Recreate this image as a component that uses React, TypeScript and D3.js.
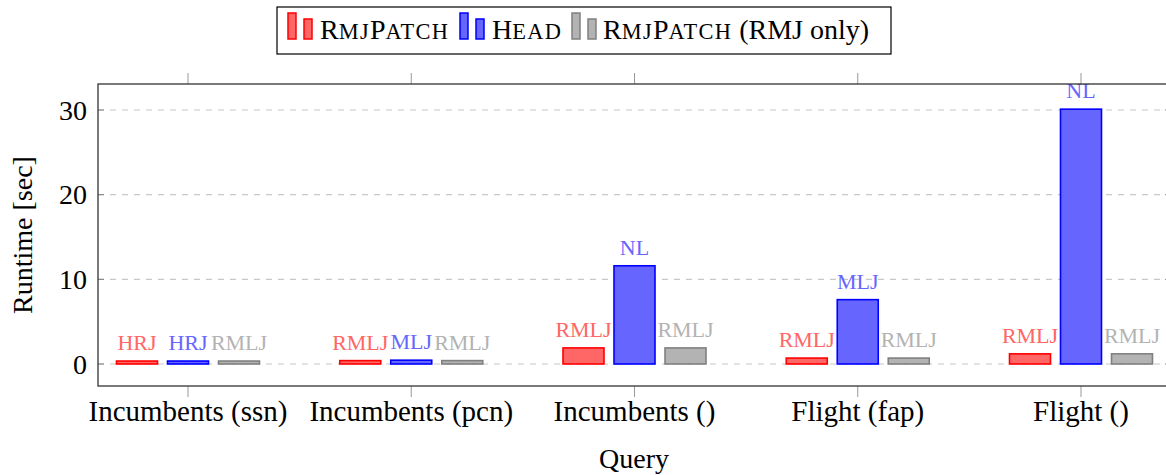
import React from "react";
import * as d3 from "d3";

const categories = ["Incumbents (ssn)", "Incumbents (pcn)", "Incumbents ()", "Flight (fap)", "Flight ()"];
const seriesNames = ["RmjPatch", "Head", "RmjPatch"];
const seriesSuffix = ["", "", " (RMJ only)"];
const rmjPatch = [0.35, 0.4, 1.9, 0.7, 1.2];
const head = [0.35, 0.45, 11.6, 7.6, 30.1];
const rmjOnly = [0.35, 0.4, 1.9, 0.7, 1.2];
const rmjPatchLabels = ["HRJ", "RMLJ", "RMLJ", "RMLJ", "RMLJ"];
const headLabels = ["HRJ", "MLJ", "NL", "MLJ", "NL"];
const rmjOnlyLabels = ["RMLJ", "RMLJ", "RMLJ", "RMLJ", "RMLJ"];
const yTicks = [0, 10, 20, 30];

const series = [
  { name: seriesNames[0], suffix: seriesSuffix[0], values: rmjPatch, labels: rmjPatchLabels, fill: "#ff6666", stroke: "#ff0000", text: "#ff6666" },
  { name: seriesNames[1], suffix: seriesSuffix[1], values: head, labels: headLabels, fill: "#6666ff", stroke: "#0000ff", text: "#6666ff" },
  { name: seriesNames[2], suffix: seriesSuffix[2], values: rmjOnly, labels: rmjOnlyLabels, fill: "#b3b3b3", stroke: "#808080", text: "#b3b3b3" },
];

function SmallCaps({ text, size }: { text: string; size: number }) {
  const parts: { s: string; small: boolean }[] = [];
  for (const ch of text) {
    const small = ch !== ch.toUpperCase();
    const last = parts[parts.length - 1];
    if (last && last.small === small) last.s += ch;
    else parts.push({ s: ch, small });
  }
  return (
    <>
      {parts.map((p, i) => (
        <tspan key={i} fontSize={p.small ? size * 0.8 : size} letterSpacing={p.small ? 1.3 : 0}>
          {p.small ? p.s.toUpperCase() : p.s}
        </tspan>
      ))}
    </>
  );
}

export default function App() {
  const W = 1166, H = 475;
  const left = 98, right = 1171, top = 84, bottom = 386;
  const font = "'Liberation Serif', 'Times New Roman', serif";
  const x = d3.scalePoint<string>().domain(categories).range([188, 1081]);
  const y = d3.scaleLinear().domain([0, 30]).range([364, 110]);
  const offsets = [-51, 0, 51];
  const barW = 41;

  return (
    <svg width={W} height={H} style={{ position: "absolute", left: 0, top: 0 }} fontFamily={font}>
      <rect x={0} y={0} width={W} height={H} fill="#fff" />
      {yTicks.map((t) => (
        <line key={"g" + t} x1={left} x2={right} y1={y(t)} y2={y(t)} stroke="#c8c8c8" strokeWidth={1.2} strokeDasharray="6,6" />
      ))}
      {yTicks.map((t) => (
        <g key={"yt" + t}>
          <line x1={left} x2={left + 6} y1={y(t)} y2={y(t)} stroke="#808080" strokeWidth={1} />
          <line x1={right - 6} x2={right} y1={y(t)} y2={y(t)} stroke="#808080" strokeWidth={1} />
          <text x={left - 11} y={y(t)} dy="0.35em" textAnchor="end" fontSize={28} fill="#000">{t}</text>
        </g>
      ))}
      {categories.map((c) => (
        <g key={"xt" + c}>
          <line x1={x(c)} x2={x(c)} y1={top} y2={top - 11} stroke="#999" strokeWidth={1} />
          <line x1={x(c)} x2={x(c)} y1={bottom} y2={bottom + 11} stroke="#999" strokeWidth={1} />
          <text x={x(c)} y={421} textAnchor="middle" fontSize={29} fill="#000">{c}</text>
        </g>
      ))}
      {series.map((s, si) =>
        categories.map((c, ci) => {
          const cx = (x(c) as number) + offsets[si];
          const v = s.values[ci];
          return (
            <g key={si + c}>
              <rect x={cx - barW / 2} y={y(v)} width={barW} height={y(0) - y(v)} fill={s.fill} stroke={s.stroke} strokeWidth={1.6} />
              <text x={cx} y={y(v) - 11} textAnchor="middle" fontSize={22} fill={s.text}>{s.labels[ci]}</text>
            </g>
          );
        })
      )}
      <rect x={left} y={top} width={right - left} height={bottom - top} fill="none" stroke="#333" strokeWidth={1.3} />
      <text x={634} y={468} textAnchor="middle" fontSize={28} fill="#000">Query</text>
      <text transform={`translate(32,235) rotate(-90)`} textAnchor="middle" fontSize={28} fill="#000">Runtime [sec]</text>
      <g>
        <rect x={277} y={7} width={614} height={47} fill="#fff" stroke="#000" strokeWidth={1.2} />
        {[
          { s: series[0], ix: 288, tx: 320 },
          { s: series[1], ix: 460, tx: 492 },
          { s: series[2], ix: 572, tx: 603 },
        ].map(({ s, ix, tx }, i) => (
          <g key={"lg" + i}>
            <rect x={ix} y={13} width={8} height={26} fill={s.fill} stroke={s.stroke} strokeWidth={1.5} />
            <rect x={ix + 16} y={19} width={8} height={20} fill={s.fill} stroke={s.stroke} strokeWidth={1.5} />
            <text x={tx} y={39} fill="#000">
              <SmallCaps text={s.name} size={28} />
              {s.suffix && <tspan fontSize={28}>{s.suffix}</tspan>}
            </text>
          </g>
        ))}
      </g>
    </svg>
  );
}
